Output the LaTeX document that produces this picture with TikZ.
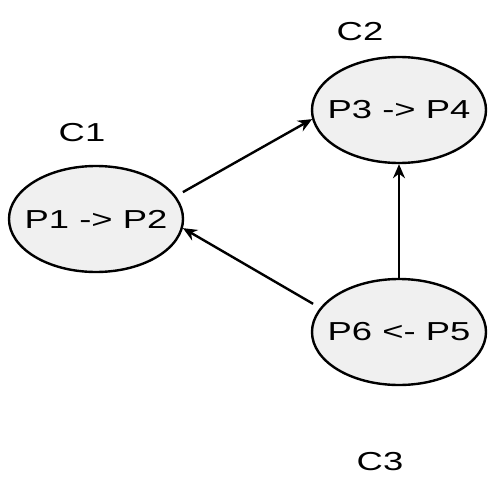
\documentclass[tikz,border=0pt]{standalone}
\usepackage{fontspec}
\setmainfont{Liberation Sans}[FakeStretch=1.4]
\usetikzlibrary{arrows.meta,shapes.geometric}
\newcommand{\zbox}[1]{\makebox[0pt]{#1}}
\begin{document}
\begin{tikzpicture}[x=1pt,y=-1pt,
  state/.style={ellipse,draw=black,line width=2.4pt,fill=gray!12,minimum width=174pt,minimum height=106pt,inner sep=0pt,font=\fontsize{26}{30}\selectfont},
  lab/.style={font=\fontsize{26}{30}\selectfont},
  conn/.style={line width=2.4pt,-{Stealth[length=14pt,width=12pt]}}]
\useasboundingbox (0,0) rectangle (500,500);
\fill[white] (0,0) rectangle (500,500);
\node[state] (c1) at (96,219) {\zbox{P1 -> P2}};
\node[state] (c2) at (399,110) {\zbox{P3 -> P4}};
\node[state] (c3) at (399,332) {\zbox{P6 <- P5}};
\node[lab] (l1) at (82,133) {C1};
\node[lab] (l2) at (360,32) {C2};
\node[lab] (l3) at (380,462) {C3};
\draw[conn,shorten <=8pt] (c1.16) -- (c2.186);
\draw[conn,shorten <=8pt] (c3.163) -- (c1.-6);
\draw[conn] (c3.north) -- (c2.south);
\end{tikzpicture}
\end{document}
